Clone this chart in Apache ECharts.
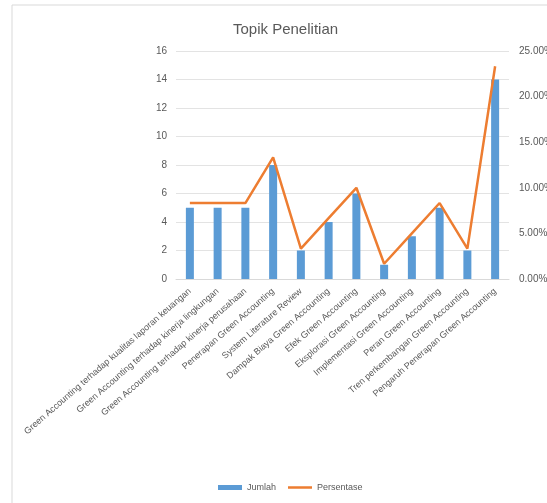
<!DOCTYPE html>
<html><head><meta charset="utf-8">
<script src="https://cdn.jsdelivr.net/npm/echarts@6/dist/echarts.min.js"></script>
<style>html,body{margin:0;padding:0;background:#fff}#c{width:547px;height:503px}</style>
</head><body><div id="c"></div>
<script>
const categories = [
  "Green Accounting terhadap kualitas laporan keuangan",
  "Green Accounting terhadap kinerja lingkungan",
  "Green Accounting terhadap kinerja perusahaan",
  "Penerapan Green Accounting",
  "System Literature Review",
  "Dampak Biaya Green Accounting",
  "Efek Green Accounting",
  "Eksplorasi Green Accounting",
  "Implementasi Green Accounting",
  "Peran Green Accounting",
  "Tren perkembangan Green Accounting",
  "Pengaruh Penerapan Green Accounting"
];
const jumlah = [5, 5, 5, 8, 2, 4, 6, 1, 3, 5, 2, 14];
const persentase = [8.33, 8.33, 8.33, 13.33, 3.33, 6.67, 10.00, 1.67, 5.00, 8.33, 3.33, 23.33];

const font = "Liberation Sans";
const grey = "#595959";
const chart = echarts.init(document.getElementById('c'));
chart.setOption({
  animation: false,
  textStyle: {fontFamily: font},
  graphic: [{type: 'rect', shape: {x: 12, y: 5, width: 560, height: 520},
    style: {fill: 'none', stroke: '#d9d9d9', lineWidth: 1}, silent: true}],
  title: {text: 'Topik Penelitian', left: 228, top: 17,
    textStyle: {fontFamily: font, fontSize: 15, fontWeight: 'normal', color: grey}},
  grid: {left: 176, right: 38, top: 51, bottom: 224, outerBoundsMode: 'none', containLabel: false},
  legend: [
    {left: 213, bottom: 6, itemWidth: 24, itemHeight: 5, itemGap: 4,
      textStyle: {fontFamily: font, fontSize: 9, color: grey},
      data: [{name: 'Jumlah', icon: 'rect'}]},
    {left: 283, bottom: 6, itemWidth: 24, itemHeight: 2.5, itemGap: 4,
      textStyle: {fontFamily: font, fontSize: 9, color: grey},
      data: [{name: 'Persentase', icon: 'rect'}]}
  ],
  xAxis: {type: 'category', data: categories,
    axisLine: {lineStyle: {color: '#d9d9d9'}}, axisTick: {show: false},
    axisLabel: {interval: 0, rotate: 41, fontSize: 9, color: grey, margin: 11}},
  yAxis: [
    {type: 'value', min: 0, max: 16, interval: 2,
      axisLine: {show: false}, axisTick: {show: false},
      axisLabel: {fontSize: 10, color: grey, margin: 9},
      splitLine: {lineStyle: {color: '#e3e3e3'}}},
    {type: 'value', min: 0, max: 25, interval: 5,
      axisLine: {show: false}, axisTick: {show: false},
      axisLabel: {fontSize: 10, color: grey, margin: 10, formatter: v => v.toFixed(2) + '%'},
      splitLine: {show: false}}
  ],
  series: [
    {name: 'Jumlah', type: 'bar', data: jumlah, barWidth: 8, itemStyle: {color: '#5B9BD5'}},
    {name: 'Persentase', type: 'line', yAxisIndex: 1, data: persentase, symbol: 'none',
      lineStyle: {color: '#ED7D31', width: 2.5}, itemStyle: {color: '#ED7D31'}}
  ]
});
</script></body></html>
